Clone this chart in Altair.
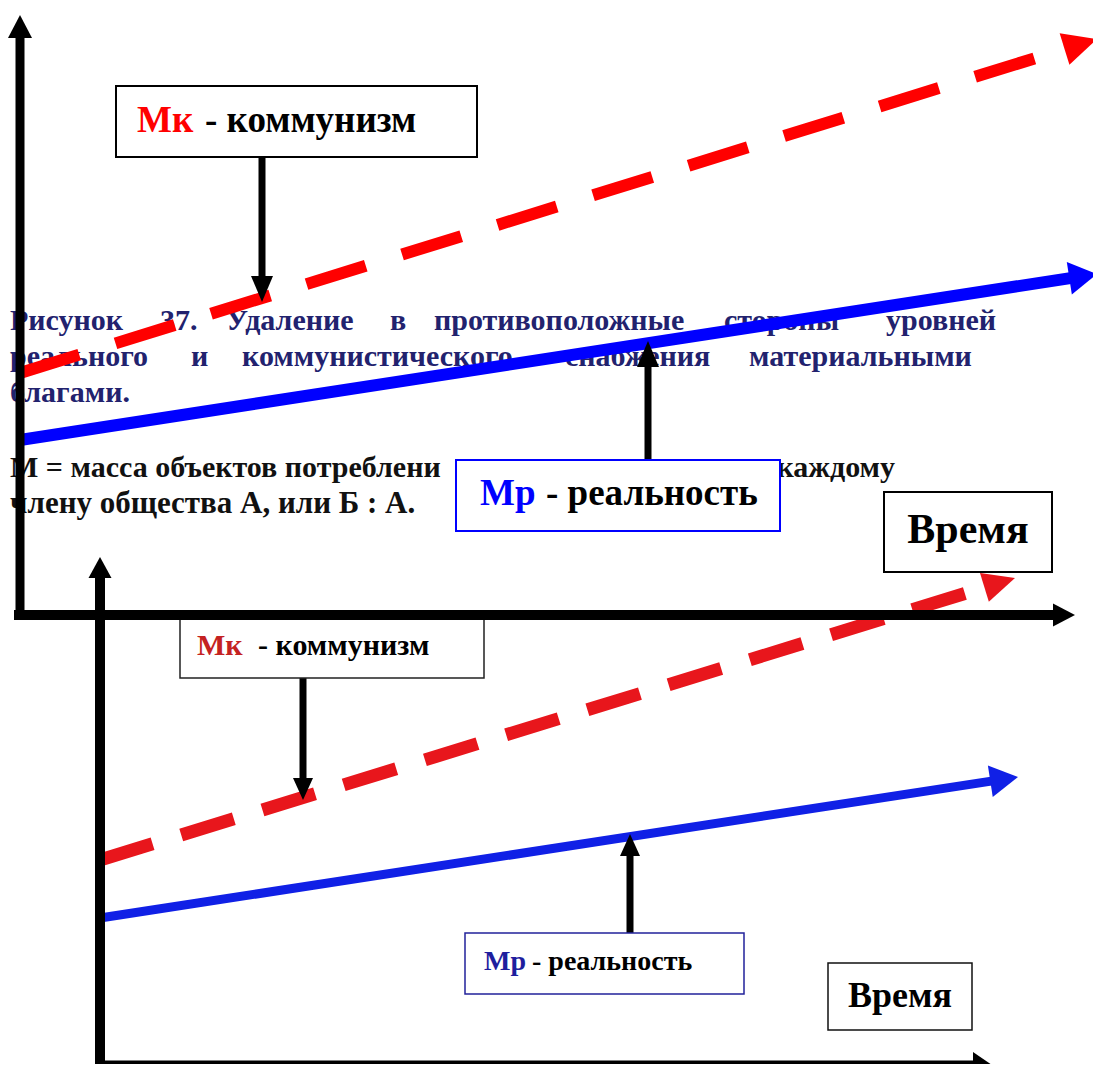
import math
import altair as alt
import pandas as pd

# ---------------- data (diagram coordinates: x = time, y = level, top-down) ----------------
# level lines: start point and arrow tip
line_names = ["Мк верх", "Мр верх", "Мк низ", "Мр низ"]
line_x0 = [20, 20, 100, 100]
line_y0 = [373, 440, 860, 918]
line_x1 = [1097, 1097, 1015, 1018]
line_y1 = [39, 274, 578, 777]

# axes: start and arrow tip
axis_names = ["верх y", "верх x", "низ y", "низ x"]
axis_x0 = [20, 14, 100, 95]
axis_y0 = [620, 615, 1069, 1065]
axis_x1 = [20, 1075, 100, 992]
axis_y1 = [15, 615, 557, 1065]

# pointer arrows from the label boxes
pointer_x0 = [262, 648, 303, 630]
pointer_y0 = [157, 459, 678, 933]
pointer_x1 = [262, 648, 303, 630]
pointer_y1 = [302, 341, 800, 834]

# label boxes
box_x0 = [116, 456, 884, 180, 465, 828]
box_y0 = [86, 460, 492, 619, 933, 963]
box_x1 = [477, 780, 1052, 484, 744, 972]
box_y1 = [157, 531, 572, 678, 994, 1030]

# label texts
label_sym = ["Мк", "Мр", "Мк", "Мр"]
label_rest = ["- коммунизм", "- реальность", "- коммунизм", "- реальность"]
label_sym_x = [137, 480, 197, 484]
label_rest_x = [205, 546, 258, 532]
label_y = [132, 505, 655, 970]
time_label = ["Время", "Время"]
time_x = [968, 900]
time_y = [543, 1007]

# caption paragraph (justified words)
cap1_words = ["Рисунок", "37.", "Удаление", "в", "противоположные", "стороны", "уровней"]
cap1_x = [10, 160, 226, 390, 434, 724, 886]
cap2_words = ["реального", "и", "коммунистического", "снабжения", "материальными"]
cap2_x = [10, 191, 242, 565, 749]
cap3_words = ["благами."]
cap3_x = [10]
cap_y = [330, 366, 402]

note1_left = "М = масса объектов потреблени"
note1_right = "каждому"
note2 = "члену общества А, или Б : А."
note_y = [477, 513]

# ---------------- helpers ----------------
XS = alt.Scale(domain=[8, 1093])
YS = alt.Scale(domain=[8, 1064], reverse=True)
FONT = "Liberation Serif"


def seg_layer(x0, y0, x1, y1, color, width, dash=None):
    df = pd.DataFrame({"x": [x0], "y": [y0], "x2": [x1], "y2": [y1]})
    kw = dict(color=color, strokeWidth=width, strokeCap="butt", opacity=1)
    if dash:
        kw["strokeDash"] = dash
    return alt.Chart(df).mark_rule(**kw).encode(
        x=alt.X("x:Q", scale=XS, axis=None),
        y=alt.Y("y:Q", scale=YS, axis=None),
        x2="x2:Q", y2="y2:Q")


def arrow_layers(x0, y0, x1, y1, color, width, head_len, head_w, dash=None):
    dx, dy = x1 - x0, y1 - y0
    n = math.hypot(dx, dy)
    ux, uy = dx / n, dy / n
    bx, by = x1 - ux * (head_len - 1), y1 - uy * (head_len - 1)
    cx, cy = x1 - ux * head_len / 2, y1 - uy * head_len / 2
    ang = math.degrees(math.atan2(dy, dx)) % 360
    w = head_w / head_len
    path = f"M 1 0 L -1 {-w:.4f} L -1 {w:.4f} Z"
    shaft = seg_layer(x0, y0, bx, by, color, width, dash)
    head = alt.Chart(pd.DataFrame({"x": [cx], "y": [cy]})).mark_point(
        shape=path, size=head_len ** 2, filled=True, color=color,
        strokeWidth=0, opacity=1, angle=ang).encode(
        x=alt.X("x:Q", scale=XS, axis=None),
        y=alt.Y("y:Q", scale=YS, axis=None))
    return [shaft, head]


def text_layer(xs, ys, texts, color, size, weight="bold", align="left"):
    df = pd.DataFrame({"x": xs, "y": ys, "t": texts})
    return alt.Chart(df).mark_text(
        align=align, baseline="alphabetic", font=FONT, fontSize=size,
        fontWeight=weight, color=color).encode(
        x=alt.X("x:Q", scale=XS, axis=None),
        y=alt.Y("y:Q", scale=YS, axis=None),
        text="t:N")


def box_layer(i, stroke, width):
    df = pd.DataFrame({"x": [box_x0[i]], "y": [box_y0[i]],
                       "x2": [box_x1[i]], "y2": [box_y1[i]]})
    return alt.Chart(df).mark_rect(fill="white", stroke=stroke,
                                   strokeWidth=width, opacity=1).encode(
        x=alt.X("x:Q", scale=XS, axis=None),
        y=alt.Y("y:Q", scale=YS, axis=None),
        x2="x2:Q", y2="y2:Q")


layers = []

# caption paragraph (under everything)
NAVY = "#22226e"
layers.append(text_layer(cap1_x, [cap_y[0]] * len(cap1_x), cap1_words, NAVY, 30))
layers.append(text_layer(cap2_x, [cap_y[1]] * len(cap2_x), cap2_words, NAVY, 30))
layers.append(text_layer(cap3_x, [cap_y[2]] * len(cap3_x), cap3_words, NAVY, 30))
layers.append(text_layer([10], [note_y[0]], [note1_left], "#111111", 30))
layers.append(text_layer([895], [note_y[0]], [note1_right], "#111111", 30, align="right"))
layers.append(text_layer([10], [note_y[1]], [note2], "#111111", 31))

# level lines
line_style = [
    dict(color="#ff0000", width=12, head_len=34, head_w=33, dash=[62, 38]),
    dict(color="#0000ff", width=12, head_len=28, head_w=33, dash=None),
    dict(color="#e8161c", width=13, head_len=32, head_w=30, dash=[55, 30]),
    dict(color="#1020e6", width=9, head_len=28, head_w=32, dash=None),
]
for i, st in enumerate(line_style):
    layers += arrow_layers(line_x0[i], line_y0[i], line_x1[i], line_y1[i],
                           st["color"], st["width"], st["head_len"], st["head_w"], st["dash"])

# pointer arrows
ptr_style = [(7, 26, 22), (7, 26, 22), (7, 22, 20), (7, 22, 20)]
for i, (w, hl, hw) in enumerate(ptr_style):
    layers += arrow_layers(pointer_x0[i], pointer_y0[i], pointer_x1[i], pointer_y1[i],
                           "#000000", w, hl, hw)

# boxes
box_style = [("#000000", 2), ("#0000ff", 2), ("#000000", 2),
             ("#222222", 1.5), ("#22229a", 1.5), ("#111111", 1.5)]
for i, (s, w) in enumerate(box_style):
    layers.append(box_layer(i, s, w))

# box texts
sym_colors = ["#ff0000", "#0000ff", "#c42222", "#1e1e9e"]
sizes = [37, 37, 30, 28]
for i in range(4):
    layers.append(text_layer([label_sym_x[i]], [label_y[i]], [label_sym[i]], sym_colors[i], sizes[i]))
    layers.append(text_layer([label_rest_x[i]], [label_y[i]], [label_rest[i]], "#000000", sizes[i]))
layers.append(text_layer([time_x[0]], [time_y[0]], [time_label[0]], "#000000", 42, align="center"))
layers.append(text_layer([time_x[1]], [time_y[1]], [time_label[1]], "#000000", 36, align="center"))

# axes (on top)
axis_style = [(9, 23, 24), (10, 22, 23), (10, 21, 23), (9, 19, 26)]
for i, (w, hl, hw) in enumerate(axis_style):
    layers += arrow_layers(axis_x0[i], axis_y0[i], axis_x1[i], axis_y1[i],
                           "#000000", w, hl, hw)

chart = alt.layer(*layers).properties(
    width=1085, height=1056, padding=0,
    autosize=alt.AutoSizeParams(type="none"),
    background="white",
).configure_view(stroke=None)

chart.save("out.html", embed_options={"renderer": "svg", "actions": False})
